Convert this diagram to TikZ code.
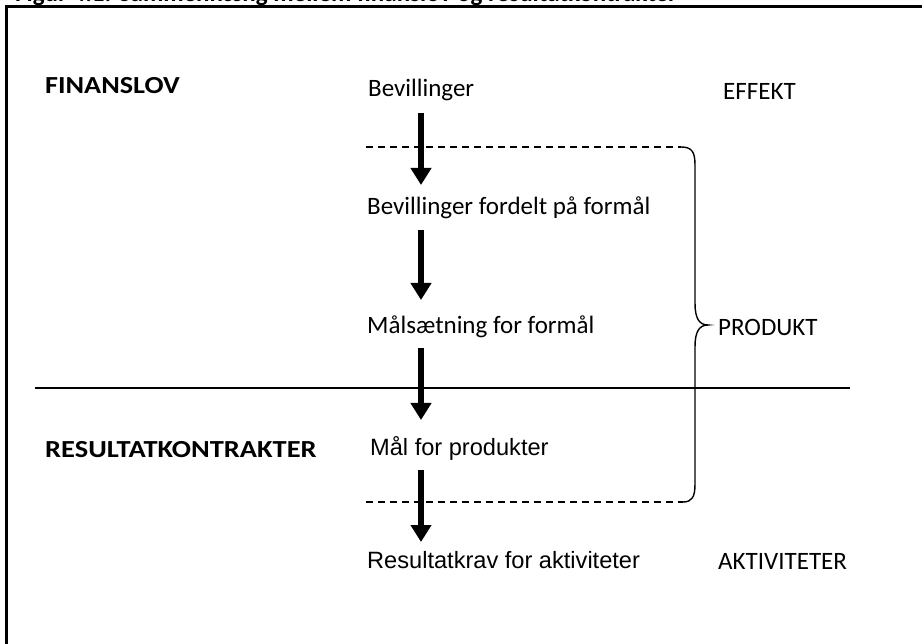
\documentclass[tikz,border=0pt]{standalone}
\usepackage{fontspec}
\setmainfont{Carlito}
\newfontfamily\arialf{Liberation Sans}
\usetikzlibrary{arrows.meta,calc}
\begin{document}
\begin{tikzpicture}[x=1pt,y=-1pt,
  lbl/.style={anchor=base west,inner sep=0pt,font=\fontsize{25}{30}\selectfont},
  albl/.style={anchor=base west,inner sep=0pt,font=\arialf\fontsize{23.6}{28}\selectfont},
  head/.style={anchor=base west,inner sep=0pt,font=\bfseries\fontsize{24.5}{29}\selectfont},
  bigarr/.style={line width=6pt,-{Triangle[width=20pt,length=17pt]}},
  dashline/.style={line width=1.4pt,dash pattern=on 7pt off 5pt},
  plainline/.style={line width=1.4pt}]
\useasboundingbox (0,0) rectangle (922,644);
% title (cut off by the page edge, as in the reference) and frame
\node[anchor=base west,inner sep=0pt,font=\bfseries\fontsize{25}{30}\selectfont] (title) at (15,1.5) {Figur 4.1. Sammenhæng mellem finanslov og resultatkontrakter};
\draw[line width=2.5pt] (6.5,700) -- (6.5,6.5) -- (940,6.5);
% headings
\node[head] (fin) at (45,94) {\scalebox{1.15}[1]{FINANSLOV}};
\node[head] (res) at (45,457) {\scalebox{1.16}[1]{RESULTATKONTRAKTER}};
% right labels
\node[lbl] (eff) at (723,100) {EFFEKT};
\node[lbl] (prod) at (718,336) {PRODUKT};
\node[lbl] (akt) at (718,569) {AKTIVITETER};
% chain
\node[lbl] (b1) at (368,97) {Bevillinger};
\node[lbl] (b2) at (367,215) {Bevillinger fordelt på formål};
\node[lbl] (b3) at (367,334) {Målsætning for formål};
\node[albl] (b4) at (370,456) {Mål for produkter};
\node[albl] (b5) at (367,568) {Resultatkrav for aktiviteter};
\coordinate (ax) at (421,0);
\draw[bigarr] ($(b1.base -| ax)+(0,16)$) -- ($(b2.base -| ax)+(0,-30)$);
\draw[bigarr] ($(b2.base -| ax)+(0,15)$) -- ($(b3.base -| ax)+(0,-34)$);
\draw[bigarr] ($(b3.base -| ax)+(0,14)$) -- ($(b4.base -| ax)+(0,-36)$);
\draw[bigarr] ($(b4.base -| ax)+(0,14)$) -- ($(b5.base -| ax)+(0,-26)$);
% separator
\draw[plainline] (35,388) -- (850,388);
% dashed limits and brace
\draw[dashline] (366,147) -- (681,147);
\draw[dashline] (366,502) -- (683,502);
\draw[plainline] (681,147) .. controls (692,147) and (695,152) .. (695,165) -- (695,303)
  .. controls (695,318) and (699,325) .. (708,325)
  .. controls (699,325) and (695,332) .. (695,347) -- (695,484)
  .. controls (695,497) and (692,502) .. (683,502);
\end{tikzpicture}
\end{document}
